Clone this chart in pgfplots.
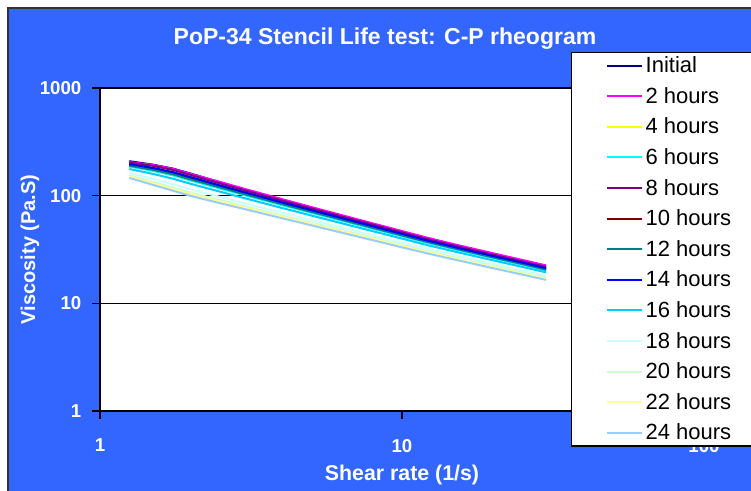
\documentclass[border=0pt]{standalone}
\usepackage{pgfplots}
\pgfplotsset{compat=1.18}
\usepackage{fontspec}
\setmainfont{Liberation Sans}

\definecolor{bgblue}{RGB}{51,102,255}
\definecolor{cInit}{RGB}{0,0,128}
\definecolor{c2}{RGB}{255,0,255}
\definecolor{c4}{RGB}{255,255,0}
\definecolor{c6}{RGB}{0,255,255}
\definecolor{c8}{RGB}{128,0,128}
\definecolor{c10}{RGB}{128,0,0}
\definecolor{c12}{RGB}{0,128,128}
\definecolor{c14}{RGB}{0,0,255}
\definecolor{c16}{RGB}{0,204,255}
\definecolor{c18}{RGB}{204,255,255}
\definecolor{c20}{RGB}{204,255,204}
\definecolor{c22}{RGB}{255,255,153}
\definecolor{c24}{RGB}{153,204,255}

\begin{document}
\begin{tikzpicture}
\useasboundingbox (0,0) rectangle (563.25pt,368.25pt);
\fill[white] (0,0) rectangle (563.25pt,368.25pt);
\fill[bgblue] (6pt,0) rectangle (563.25pt,362.25pt);
\draw[black!80, line width=0.8pt] (6pt,-1pt) -- (6pt,362.25pt) -- (564pt,362.25pt);
\node[font=\bfseries\fontsize{17.25}{20}\selectfont, text=white] at (288.75pt,339pt)
  {PoP-34 Stencil Life test: C-P rheogram};

\begin{axis}[
    at={(75pt,60pt)}, anchor=south west,
    scale only axis, width=453pt, height=242.25pt,
    xmode=log, ymode=log,
    xmin=1, xmax=100, ymin=1, ymax=1000,
    axis background/.style={fill=white},
    xtick={1,10,100}, xticklabels={1,10,100},
    ytick={1,10,100,1000}, yticklabels={1,10,100,1000},
    xminorticks=false, yminorticks=false,
    xtick pos=bottom, ytick pos=left,
    tick align=outside, major tick length=6pt,
    tick style={black, line width=1pt},
    ymajorgrids, grid style={black, line width=1pt},
    axis line style={black, line width=1.2pt},
    ticklabel style={font=\bfseries\fontsize{14}{16}\selectfont, text=white},
    xticklabel style={yshift=-11.5pt},
    yticklabel style={xshift=-4.5pt},
    xlabel={Shear rate (1/s)}, ylabel={Viscosity (Pa.S)},
    every axis x label/.style={at={(axis description cs:0.5,-0.198)}, anchor=center,
        font=\bfseries\fontsize{16}{19}\selectfont, text=white},
    every axis y label/.style={at={(axis description cs:-0.1159,0.5)}, rotate=90, anchor=center,
        font=\bfseries\fontsize{15}{18}\selectfont, text=white},
    legend style={at={(axis description cs:0.7798,1.1115)}, anchor=north west,
        draw=black, line width=1pt, fill=white,
        font=\fontsize{16.5}{19}\selectfont,
        inner xsep=26pt, inner ysep=1pt, row sep=5.5pt},
    legend cell align=left,
    legend image code/.code={\draw[#1] (0pt,0pt) -- (26pt,0pt);},
    every axis plot/.append style={line width=1.5pt},
]
\addplot[cInit] coordinates {
 (1.25,209) (1.5,194) (1.75,178) (2,160) (2.5,133) (3,114) (4,91) (5,77)
 (6,67) (8,54) (10,45.8) (12,40) (15,34.4) (20,28.4) (25,24.5) (30,21.7)};
\addlegendentry{Initial}
\addplot[c2] coordinates {
 (1.25,205) (1.5,193) (1.75,177) (2,159) (2.5,134) (3,116) (4,93) (5,78.5)
 (6,68.5) (8,55.3) (10,46.9) (12,41) (15,35.2) (20,29.2) (25,25.3) (30,22.5)};
\addlegendentry{2 hours}
\addplot[c4] coordinates {
 (1.25,200) (1.5,185) (1.75,169) (2,152) (2.5,127) (3,110) (4,88.4) (5,74.9)
 (6,65.4) (8,52.9) (10,44.9) (12,39.2) (15,33.7) (20,27.9) (25,24.2) (30,21.5)};
\addlegendentry{4 hours}
\addplot[c6] coordinates {
 (1.25,186.4) (1.5,169.7) (1.75,153.8) (2,138.1) (2.5,116.3) (3,101.2) (4,81.7) (5,69.4)
 (6,60.8) (8,49.3) (10,41.9) (12,36.8) (15,31.7) (20,26.3) (25,22.8) (30,20.2)};
\addlegendentry{6 hours}
\addplot[c8] coordinates {
 (1.25,203) (1.5,189) (1.75,173) (2,155.5) (2.5,130) (3,112.5) (4,90.2) (5,76.3)
 (6,66.6) (8,53.8) (10,45.6) (12,39.8) (15,34.2) (20,28.3) (25,24.5) (30,21.8)};
\addlegendentry{8 hours}
\addplot[c10] coordinates {
 (1.25,193) (1.5,177.1) (1.75,161.2) (2,144.7) (2.5,121.6) (3,105.6) (4,85) (5,72.1)
 (6,63.1) (8,51.1) (10,43.4) (12,38) (15,32.7) (20,27.1) (25,23.5) (30,20.8)};
\addlegendentry{10 hours}
\addplot[c12] coordinates {
 (1.25,189.7) (1.5,173.4) (1.75,157.5) (2,141.4) (2.5,119) (3,103.4) (4,83.4) (5,70.8)
 (6,62) (8,50.2) (10,42.7) (12,37.4) (15,32.2) (20,26.7) (25,23.2) (30,20.5)};
\addlegendentry{12 hours}
\addplot[c14] coordinates {
 (1.25,196.5) (1.5,181) (1.75,165) (2,148.4) (2.5,124.3) (3,107.8) (4,86.7) (5,73.5)
 (6,64.3) (8,52) (10,44.2) (12,38.6) (15,33.2) (20,27.5) (25,23.9) (30,21.2)};
\addlegendentry{14 hours}
\addplot[c16] coordinates {
 (1.25,176.9) (1.5,159.1) (1.75,143.4) (2,128.6) (2.5,108.8) (3,95) (4,76.9) (5,65.5)
 (6,57.5) (8,46.8) (10,39.9) (12,35) (15,30.2) (20,25.1) (25,21.8) (30,19.4)};
\addlegendentry{16 hours}
\addplot[c18] coordinates {
 (1.25,162.1) (1.5,143) (1.75,127.5) (2,114.4) (2.5,97.3) (3,85.4) (4,69.6) (5,59.5)
 (6,52.4) (8,42.9) (10,36.6) (12,32.3) (15,27.9) (20,23.2) (25,20.2) (30,18)};
\addlegendentry{18 hours}
\addplot[c20] coordinates {
 (1.25,153.9) (1.5,134) (1.75,118.9) (2,106.6) (2.5,91) (3,80.1) (4,65.6) (5,56.2)
 (6,49.6) (8,40.7) (10,34.8) (12,30.8) (15,26.6) (20,22.2) (25,19.3) (30,17.2)};
\addlegendentry{20 hours}
\addplot[c22] coordinates {
 (1.25,150.2) (1.5,130.1) (1.75,115) (2,103.1) (2.5,88.2) (3,77.8) (4,63.8) (5,54.7)
 (6,48.3) (8,39.7) (10,34) (12,30.1) (15,26) (20,21.7) (25,18.9) (30,16.9)};
\addlegendentry{22 hours}
\addplot[c24] coordinates {
 (1.25,146) (1.5,125.7) (1.75,110.8) (2,99.3) (2.5,85.1) (3,75.2) (4,61.8) (5,53.1)
 (6,46.9) (8,38.6) (10,33.1) (12,29.3) (15,25.4) (20,21.2) (25,18.5) (30,16.5)};
\addlegendentry{24 hours}
\end{axis}
\end{tikzpicture}
\end{document}
